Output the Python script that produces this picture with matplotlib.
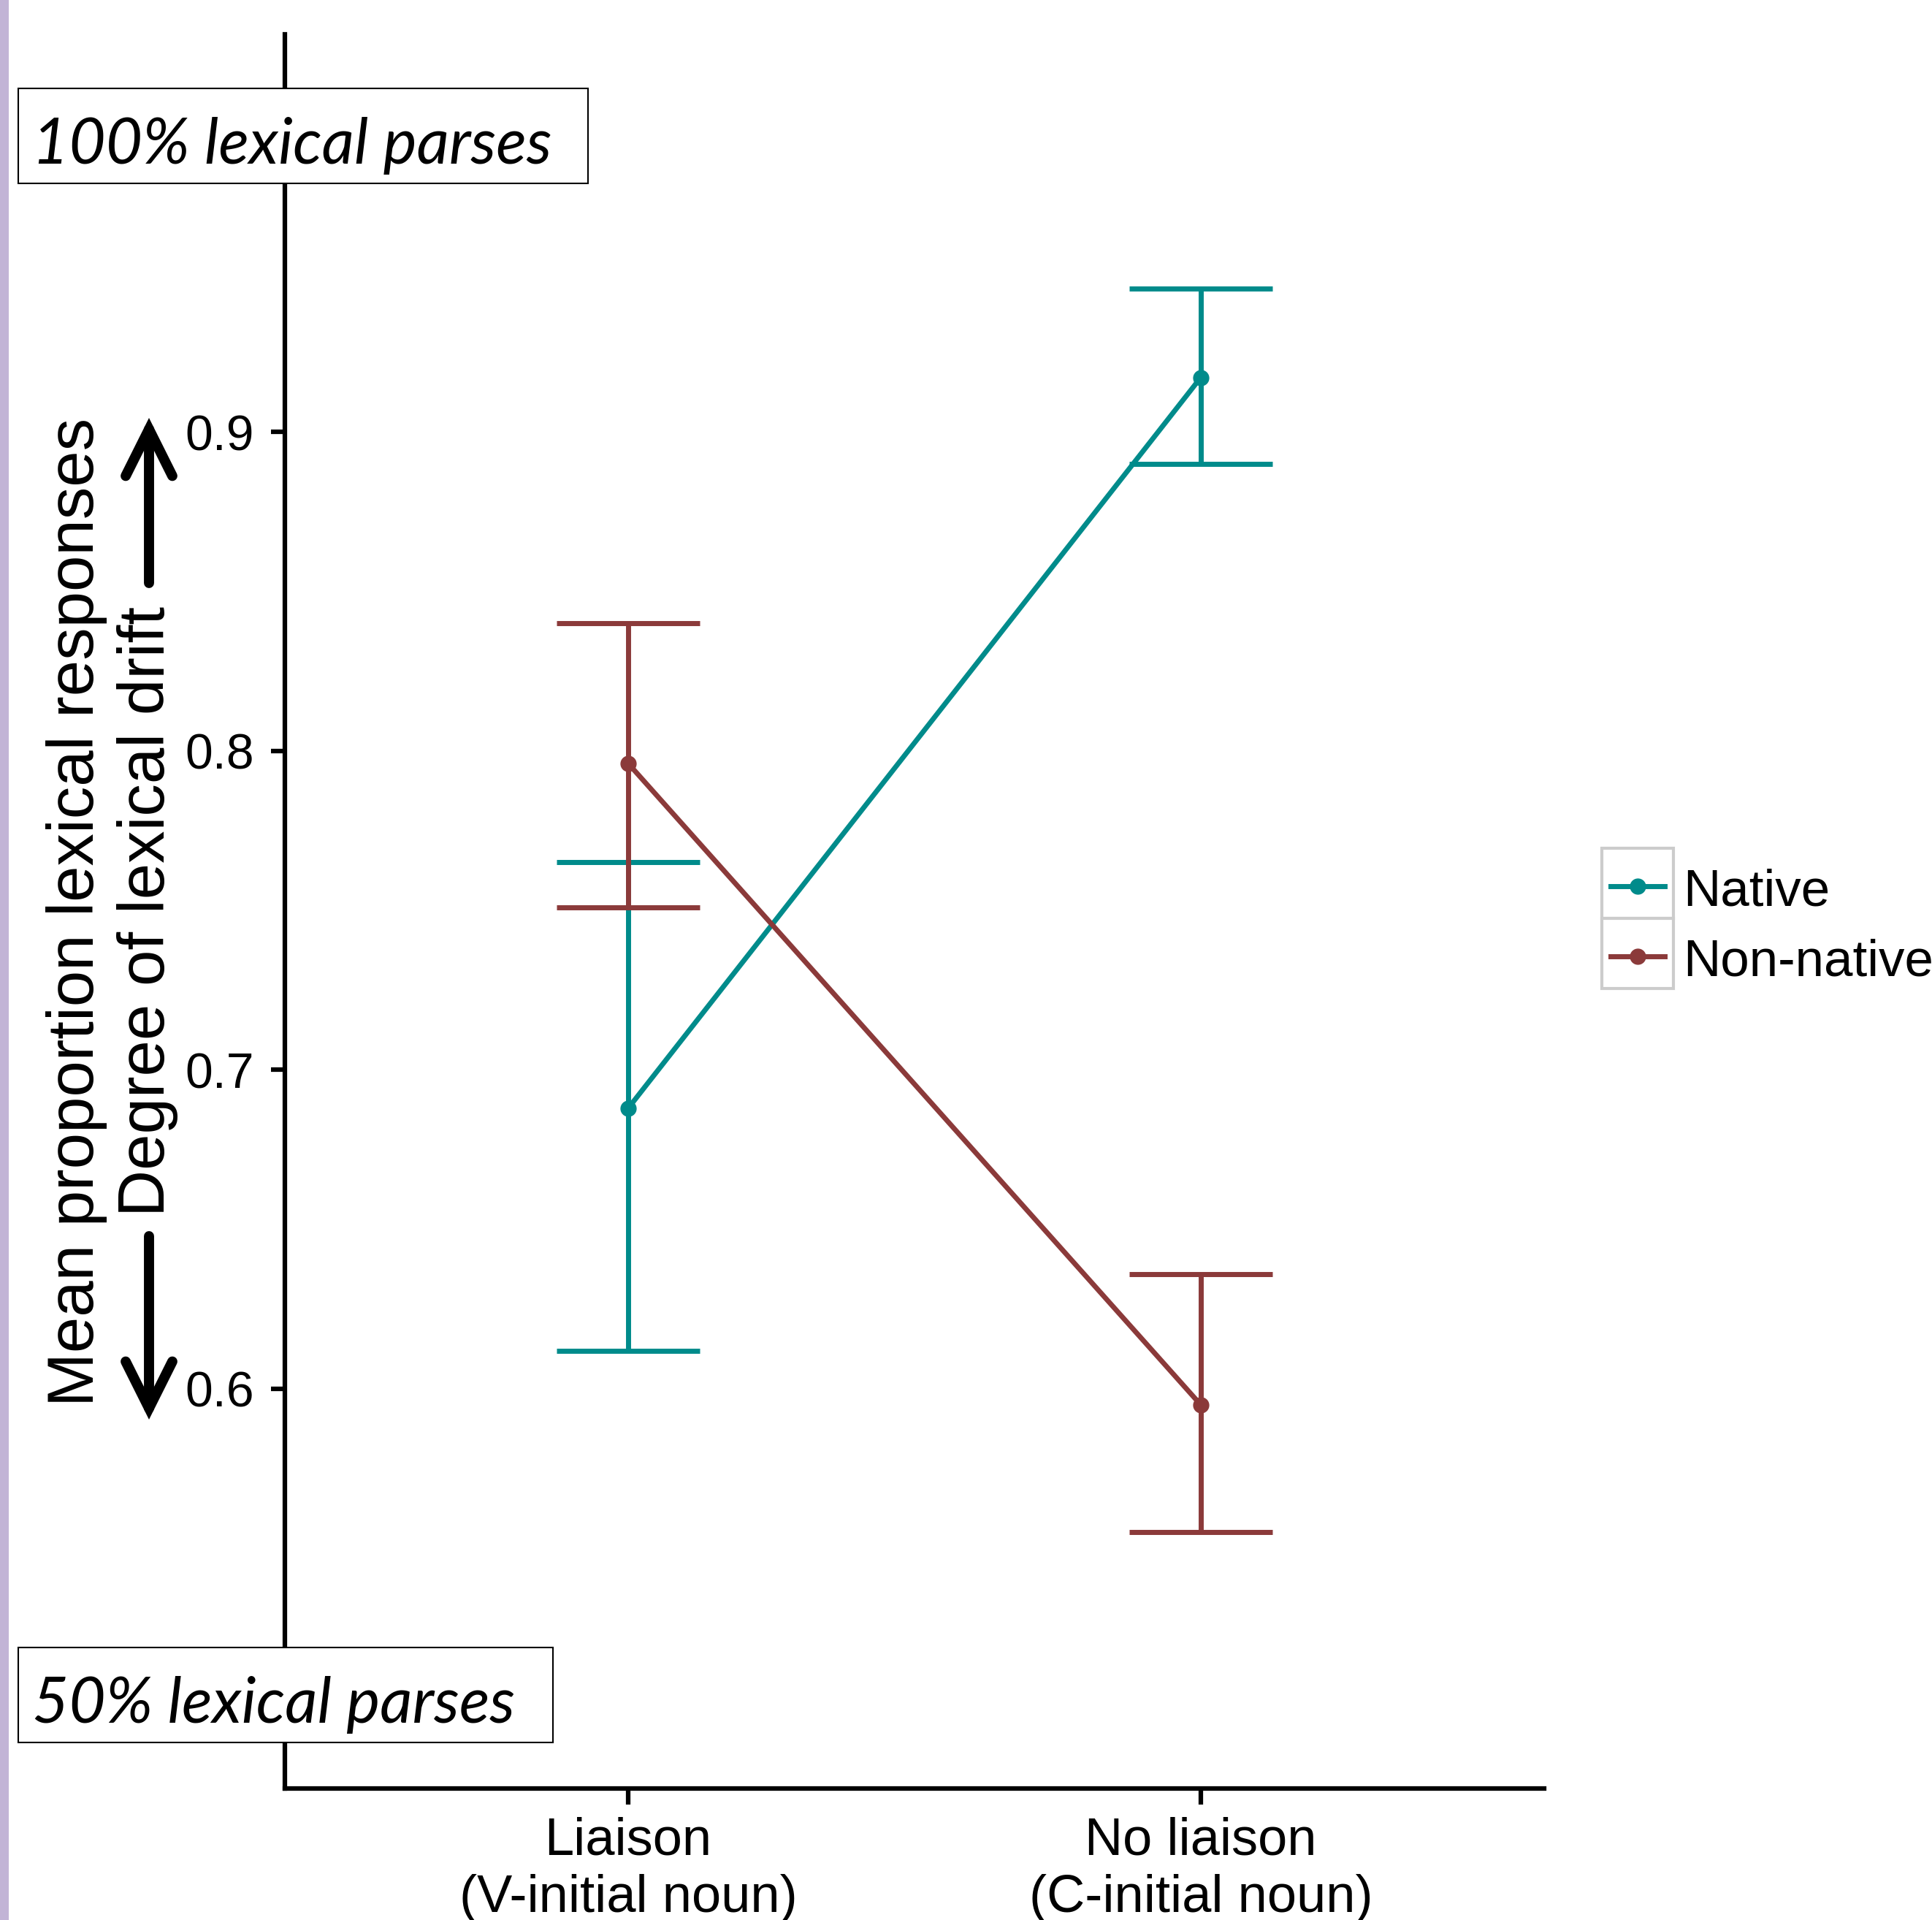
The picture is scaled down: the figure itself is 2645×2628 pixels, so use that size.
import matplotlib.pyplot as plt
from matplotlib.patches import Rectangle, FancyArrowPatch
from matplotlib.lines import Line2D

# data
conditions = ['Liaison\n(V-initial noun)', 'No liaison\n(C-initial noun)']
groups = ['Native', 'Non-native']
native_mean = [0.688, 0.917]
native_lo = [0.612, 0.890]
native_hi = [0.765, 0.945]
nonnative_mean = [0.796, 0.595]
nonnative_lo = [0.751, 0.555]
nonnative_hi = [0.840, 0.636]
yticks = [0.6, 0.7, 0.8, 0.9]
colors = ['#008b8b', '#8b3a3a']

W, H = 2645, 2628
plt.rcParams['font.family'] = ['Liberation Sans', 'DejaVu Sans']

fig = plt.figure(figsize=(W / 100, H / 100), dpi=100)
ax = fig.add_axes([390 / W, 1 - 2448 / H, (2114 - 390) / W, (2448 - 47) / H])


def fx(px):
    return px / W


def fy(py):
    return 1 - py / H


LW = 5
x = [1, 2]
series = [(native_mean, native_lo, native_hi), (nonnative_mean, nonnative_lo, nonnative_hi)]
for (m, lo, hi), c in zip(series, colors):
    ax.plot(x, m, color=c, lw=LW, marker='o', ms=15, solid_capstyle='butt')
    ax.vlines(x, lo, hi, color=c, lw=LW)
    ax.hlines(lo, [v - 0.125 for v in x], [v + 0.125 for v in x], color=c, lw=LW)
    ax.hlines(hi, [v - 0.125 for v in x], [v + 0.125 for v in x], color=c, lw=LW)

ax.set_xlim(0.4, 2.6)
ax.set_ylim(0.4747, 1.0246)
ax.set_xticks(x)
ax.set_xticklabels(conditions, fontsize=52, linespacing=1.22)
ax.set_yticks(yticks)
ax.set_yticklabels([str(v) for v in yticks], fontsize=49)
ax.tick_params(axis='y', length=14, width=4.5, pad=16)
ax.tick_params(axis='x', length=16, width=4.5, pad=12)
for s in ['top', 'right']:
    ax.spines[s].set_visible(False)
for s in ['left', 'bottom']:
    ax.spines[s].set_linewidth(4.5)

# y labels and arrows
fig.text(fx(105), fy(1248), 'Mean proportion lexical responses', rotation=90,
         fontsize=64, ha='center', va='center')
fig.text(fx(202), fy(1247), 'Degree of lexical drift', rotation=90,
         fontsize=64, ha='center', va='center')
for y0, y1 in [(798, 572), (1692, 1943)]:
    arr = FancyArrowPatch((fx(204), fy(y0)), (fx(204), fy(y1)), transform=fig.transFigure,
                          arrowstyle='->,head_length=1,head_width=0.5', mutation_scale=46,
                          lw=10, color='black', shrinkA=0, shrinkB=0,
                          joinstyle='miter', capstyle='round')
    fig.add_artist(arr)

# boxes
for (x0, y0, x1, y1), txt, base in [((25, 121, 805, 251), '100% lexical parses', 224),
                                    ((25, 2255, 757, 2385), '50% lexical parses', 2358)]:
    fig.add_artist(Rectangle((fx(x0), fy(y1)), (x1 - x0) / W, (y1 - y0) / H,
                             transform=fig.transFigure, fc='white', ec='black', lw=1.5, zorder=5))
    fig.text(fx(44), fy(base), txt, family='Lato', style='italic', fontsize=62.5,
             va='baseline', ha='left', zorder=6)

# purple strip
fig.add_artist(Rectangle((0, 0), 12 / W, 1, transform=fig.transFigure, fc='#c2b4d6', ec='none'))

# legend
for i, (g, c) in enumerate(zip(groups, colors)):
    top = 1161 + i * 96
    fig.add_artist(Rectangle((fx(2193), fy(top + 96)), 98 / W, 96 / H, transform=fig.transFigure,
                             fc='white', ec='#cccccc', lw=3))
    ly = fy(top + 52)
    fig.add_artist(Line2D([fx(2205), fx(2242), fx(2279)], [ly, ly, ly], transform=fig.transFigure,
                          color=c, lw=LW, marker='o', ms=15, markevery=[1]))
    fig.text(fx(2304), fy(1240 + i * 96), g, fontsize=51, va='baseline', ha='left')

fig.savefig('out.png', dpi=100)
